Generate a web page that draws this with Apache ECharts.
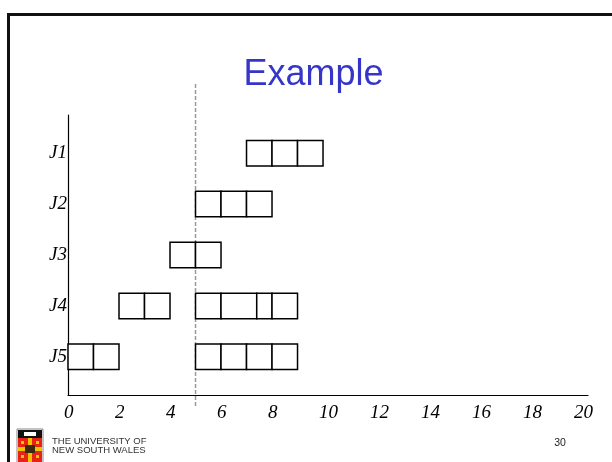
<!DOCTYPE html>
<html>
<head>
<meta charset="utf-8">
<script src="https://cdn.jsdelivr.net/npm/echarts@6/dist/echarts.min.js"></script>
<style>
html,body{margin:0;padding:0;background:#fff;}
#main{width:612px;height:462px;}
</style>
</head>
<body>
<div id="main"></div>
<script>
// ---- data ----
const jobs = ['J1', 'J2', 'J3', 'J4', 'J5'];
const j1Blocks = [[7, 8], [8, 9], [9, 10]];
const j2Blocks = [[5, 6], [6, 7], [7, 8]];
const j3Blocks = [[4, 5], [5, 6]];
const j4Blocks = [[2, 3], [3, 4], [5, 6], [6, 7.4], [7.4, 8], [8, 9]];
const j5Blocks = [[0, 1], [1, 2], [5, 6], [6, 7], [7, 8], [8, 9]];
const xTicks = [0, 2, 4, 6, 8, 10, 12, 14, 16, 18, 20];
const currentTime = 5;
const titleText = 'Example';
const pageNumber = '30';

const allBlocks = [j1Blocks, j2Blocks, j3Blocks, j4Blocks, j5Blocks];
const boxData = [];
allBlocks.forEach((blocks, i) => {
  blocks.forEach(b => boxData.push([b[0], b[1], i + 1]));
});

const chart = echarts.init(document.getElementById('main'), null, {renderer: 'canvas'});

const option = {
  backgroundColor: '#fff',
  animation: false,
  grid: {left: 68, right: 24, top: 115, bottom: 67, containLabel: false},
  xAxis: {
    type: 'value', min: 0, max: 20.39,
    axisLine: {show: true, lineStyle: {color: '#000', width: 1.2}},
    axisTick: {show: false},
    splitLine: {show: false},
    axisLabel: {
      customValues: xTicks,
      margin: 8,
      align: 'left',
      padding: [0, 0, 0, -4],
      fontFamily: 'Liberation Serif', fontStyle: 'italic', fontSize: 19, color: '#000',
      formatter: v => String(v)
    }
  },
  yAxis: {
    type: 'value', min: 0.25, max: 5.75, inverse: true,
    axisLine: {show: true, lineStyle: {color: '#000', width: 1.2}},
    axisTick: {show: false},
    splitLine: {show: false},
    axisLabel: {
      customValues: [1, 2, 3, 4, 5],
      margin: 1,
      fontFamily: 'Liberation Serif', fontStyle: 'italic', fontSize: 19, color: '#000',
      formatter: v => jobs[Math.round(v) - 1] || ''
    }
  },
  series: [{
    type: 'custom',
    z: 5,
    data: boxData,
    encode: {x: [0, 1], y: 2},
    renderItem: function (params, api) {
      const s = api.value(0), e = api.value(1), r = api.value(2);
      const p0 = api.coord([s, r]);
      const p1 = api.coord([e, r]);
      const h = api.size([0, 1])[1] * 0.5;
      return {
        type: 'rect',
        shape: {x: p0[0], y: p0[1] - h / 2, width: p1[0] - p0[0], height: h},
        style: {fill: '#fff', stroke: '#000', lineWidth: 1.5}
      };
    }
  }]
};
chart.setOption(option);

const xNow = chart.convertToPixel({xAxisIndex: 0}, currentTime);

chart.setOption({
  graphic: [
    // slide frame
    {type: 'rect', shape: {x: 8.5, y: 14.5, width: 700, height: 600},
      style: {fill: 'none', stroke: '#111', lineWidth: 3}, silent: true},
    // title
    {type: 'text', x: 313.5, y: 75,
      style: {text: titleText, fontFamily: 'Liberation Sans, Arial', fontSize: 36,
        fill: '#3535C8', align: 'center', verticalAlign: 'middle'}},
    // current time dashed line (behind boxes)
    {type: 'line', z: 1, shape: {x1: xNow, y1: 84, x2: xNow, y2: 406},
      style: {stroke: '#9a9a9a', lineWidth: 1.5, lineDash: [4, 2]}},
    // footer text
    {type: 'text', x: 52, y: 446,
      style: {text: 'THE UNIVERSITY OF', fontFamily: 'Liberation Sans, Arial', fontSize: 9.5,
        fill: '#333', align: 'left', verticalAlign: 'bottom'}},
    {type: 'text', x: 52, y: 455,
      style: {text: 'NEW SOUTH WALES', fontFamily: 'Liberation Sans, Arial', fontSize: 9.5,
        fill: '#333', align: 'left', verticalAlign: 'bottom'}},
    {type: 'text', x: 560, y: 443,
      style: {text: pageNumber, fontFamily: 'Liberation Sans, Arial', fontSize: 10.5,
        fill: '#222', align: 'center', verticalAlign: 'middle'}},
    // crest
    {type: 'group', x: 17, y: 429, children: [
      {type: 'rect', shape: {x: 0, y: 0, width: 26, height: 34}, style: {fill: '#fff', stroke: '#888', lineWidth: 1}},
      {type: 'rect', shape: {x: 1, y: 1, width: 24, height: 8}, style: {fill: '#111'}},
      {type: 'rect', shape: {x: 7, y: 3, width: 12, height: 4}, style: {fill: '#fff'}},
      {type: 'rect', shape: {x: 1, y: 9, width: 24, height: 24}, style: {fill: '#e52416'}},
      {type: 'rect', shape: {x: 11, y: 9, width: 4, height: 24}, style: {fill: '#f2c200'}},
      {type: 'rect', shape: {x: 1, y: 18, width: 24, height: 4}, style: {fill: '#f2c200'}},
      {type: 'rect', shape: {x: 8, y: 16, width: 10, height: 8}, style: {fill: '#3a2a10'}},
      {type: 'rect', shape: {x: 4, y: 12, width: 3, height: 3}, style: {fill: '#f2c200'}},
      {type: 'rect', shape: {x: 19, y: 12, width: 3, height: 3}, style: {fill: '#f2c200'}},
      {type: 'rect', shape: {x: 4, y: 26, width: 3, height: 3}, style: {fill: '#f2c200'}},
      {type: 'rect', shape: {x: 19, y: 26, width: 3, height: 3}, style: {fill: '#f2c200'}}
    ]}
  ]
});
</script>
</body>
</html>
